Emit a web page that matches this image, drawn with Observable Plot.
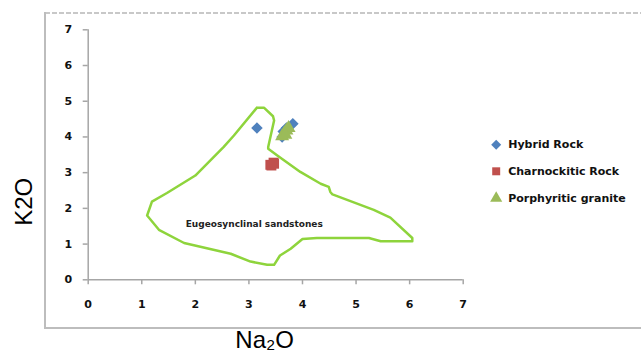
<!DOCTYPE html>
<html><head><meta charset="utf-8">
<script src="https://cdn.jsdelivr.net/npm/d3@7"></script>
<script src="https://cdn.jsdelivr.net/npm/@observablehq/plot@0.6"></script>
<style>
body{margin:0;background:#fff;}
#wrap{position:relative;width:641px;height:354px;}
#wrap svg{position:absolute;left:0;top:0;}
</style>
</head><body>
<div id="wrap">
<svg width="641" height="354" id="bg">
  <line x1="45" y1="13" x2="641" y2="13" stroke="#c8c8c8" stroke-width="2" stroke-dasharray="5,2"/>
  <line x1="45" y1="12" x2="45" y2="329" stroke="#bdbdbd" stroke-width="2"/>
  <line x1="44" y1="328" x2="641" y2="328" stroke="#bdbdbd" stroke-width="2"/>
</svg>
</div>
<script>
// Series (Na2O, K2O wt%)
const seriesNames = ["Hybrid Rock", "Charnockitic Rock", "Porphyritic granite"];
const hybridNa2O = [3.15, 3.82, 3.70, 3.64, 3.62];
const hybridK2O  = [4.25, 4.37, 4.25, 4.15, 4.00];
const charnNa2O  = [3.40, 3.46, 3.42, 3.47];
const charnK2O   = [3.22, 3.28, 3.20, 3.25];
const porphNa2O  = [3.62, 3.66, 3.70, 3.74, 3.68];
const porphK2O   = [4.02, 4.10, 4.18, 4.25, 4.06];
// Eugeosynclinal sandstones field outline
const fieldNa2O = [3.15,3.28,3.45,3.47,3.36,3.36,3.53,3.96,4.34,4.49,4.52,4.56,5.33,5.64,6.05,6.05,5.46,5.24,4.27,4.00,3.78,3.58,3.47,3.34,3.03,2.66,1.79,1.32,1.10,1.19,1.47,2.00,2.53,2.72,3.15];
const fieldK2O  = [4.82,4.82,4.58,4.46,3.72,3.67,3.48,3.02,2.69,2.60,2.46,2.39,1.96,1.74,1.17,1.08,1.08,1.17,1.17,1.14,0.87,0.68,0.42,0.42,0.51,0.73,1.03,1.40,1.80,2.19,2.43,2.92,3.72,4.04,4.82];
const fieldName = "Eugeosynclinal sandstones";
const tickValues = [0,1,2,3,4,5,6,7];
const xTitle = "Na\u2082O";
const yTitle = "K2O";

const colors = ["#4f81bd", "#c0504d", "#9bbb59"];
const symbols = ["diamond2", "square", "triangle"];
const toPts = (xs, ys) => xs.map((x, i) => ({x, y: ys[i]}));
const series = [toPts(hybridNa2O, hybridK2O), toPts(charnNa2O, charnK2O), toPts(porphNa2O, porphK2O)];
const field = toPts(fieldNa2O, fieldK2O);

const tickFont = {fontFamily: "DejaVu Sans", fontWeight: "bold", fontSize: 11, fill: "#111"};
const legendDy = [-10, 16.5, 43.5];

const chart = Plot.plot({
  width: 641, height: 354,
  marginLeft: 87.7, marginRight: 178.3, marginTop: 29.3, marginBottom: 74.7,
  style: {background: "transparent", fontFamily: "DejaVu Sans"},
  x: {domain: [0, 7], axis: null},
  y: {domain: [0, 7], axis: null},
  marks: [
    Plot.axisX(tickValues, {label: null, tickSize: 5, tickPadding: 15, stroke: "#a6a6a6", strokeWidth: 1.5, ...tickFont}),
    Plot.axisY(tickValues, {label: null, tickSize: 5, tickPadding: 11, stroke: "#a6a6a6", strokeWidth: 1.5, ...tickFont}),
    Plot.ruleY([0], {stroke: "#a6a6a6", strokeWidth: 1.5}),
    Plot.ruleX([0], {stroke: "#a6a6a6", strokeWidth: 1.5}),
    Plot.line(field, {x: "x", y: "y", stroke: "#8ed43c", strokeWidth: 2.5, strokeLinejoin: "round"}),
    Plot.text([fieldName], {x: () => 3.1, y: () => 1.57, text: d => d, fontFamily: "DejaVu Sans", fontWeight: "bold", fontSize: 9, fill: "#222"}),
    ...series.map((pts, i) => Plot.dot(pts, {x: "x", y: "y", symbol: symbols[i], fill: colors[i], stroke: "none", r: i === 1 ? 5.6 : 5.2})),
    ...seriesNames.map((name, i) => Plot.dot([name], {frameAnchor: "right", dx: 33, dy: legendDy[i], symbol: symbols[i], fill: colors[i], stroke: "none", r: 4.5})),
    ...seriesNames.map((name, i) => Plot.text([name], {frameAnchor: "right", dx: 45, dy: legendDy[i], text: d => d, textAnchor: "start", fontFamily: "DejaVu Sans", fontWeight: "bold", fontSize: 11, fill: "#111"})),
    Plot.text([yTitle], {frameAnchor: "left", dx: -64, dy: 71, rotate: -90, text: d => d, fontFamily: "Liberation Sans", fontSize: 24, fill: "#000"}),
    Plot.text([xTitle], {frameAnchor: "bottom", dx: -11, dy: 68, text: d => d, fontFamily: "Liberation Sans", fontSize: 24, fill: "#000"})
  ]
});
document.getElementById("wrap").appendChild(chart);
</script>
</body></html>
